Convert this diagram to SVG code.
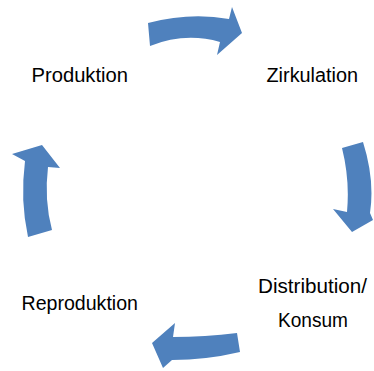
<svg xmlns="http://www.w3.org/2000/svg" width="374" height="371" viewBox="0 0 374 371">
<style>
.arrow{fill:#4F81BD;stroke:none}
.lbl{font-family:"Liberation Sans",Arial,sans-serif;font-size:19.5px;fill:#000}
</style>
<rect width="374" height="371" fill="#fff"/>
<g id="connectors">
<path class="arrow" d="M148,23 Q190,12 229,19 L232,7 L242,33 L217,55 L220,42 Q185,32 150,46 Z"/>
<path class="arrow" d="M342,148 L363,142 Q375,180 370,213 L373,220 L352,232 L333,209 L347,212 Q350,180 342,148 Z"/>
<path class="arrow" d="M237,333 Q205,337 173,337 L175,323 L152,343 L163,368 L172,360 Q206,360 240,352 Z"/>
<path class="arrow" d="M28,237 Q20,200 25,161 L12,154 L42,145 L60,168 L48,167 Q44,200 52,230 Z"/>
</g>
<g id="produktion"><text class="lbl" x="31.5" y="81.5" textLength="96.5" lengthAdjust="spacingAndGlyphs">Produktion</text></g>
<g id="zirkulation"><text class="lbl" x="266.5" y="81.5" textLength="91.5" lengthAdjust="spacingAndGlyphs">Zirkulation</text></g>
<g id="distribution"><text class="lbl" x="258" y="293" textLength="109" lengthAdjust="spacingAndGlyphs">Distribution/</text><text class="lbl" x="278" y="327" textLength="70" lengthAdjust="spacingAndGlyphs">Konsum</text></g>
<g id="reproduktion"><text class="lbl" x="21.5" y="310" textLength="116.5" lengthAdjust="spacingAndGlyphs">Reproduktion</text></g>
</svg>
